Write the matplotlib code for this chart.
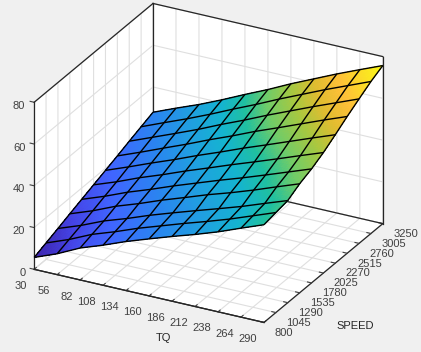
import numpy as np
import matplotlib
matplotlib.use("Agg")
import matplotlib.pyplot as plt
from matplotlib.colors import LinearSegmentedColormap, Normalize
from matplotlib.transforms import ScaledTranslation
from mpl_toolkits.mplot3d import Axes3D

plt.rcParams['font.family'] = ['Liberation Sans', 'DejaVu Sans']

tq = [30, 56, 82, 108, 134, 160, 186, 212, 238, 264, 290]
speed = [800, 1045, 1290, 1535, 1780, 2025, 2270, 2515, 2760, 3005, 3250]
# rows = speed, columns = tq
z_rows = [
    [5.7, 10.0, 15.3, 19.2, 23.5, 27.3, 31.0, 34.5, 38.3, 42.6, 46.8],
    [7.9, 12.1, 17.1, 20.9, 25.1, 28.8, 32.5, 36.0, 39.7, 43.8, 47.9],
    [10.1, 14.1, 18.8, 22.5, 26.6, 30.3, 33.9, 37.4, 41.0, 45.0, 48.9],
    [12.4, 16.4, 21.1, 24.9, 29.1, 32.9, 36.8, 40.3, 44.1, 48.2, 52.2],
    [14.6, 18.6, 23.1, 27.0, 31.2, 35.1, 39.0, 42.7, 46.6, 50.6, 54.6],
    [16.8, 20.8, 25.3, 29.3, 33.6, 37.6, 41.7, 45.6, 49.6, 53.7, 57.7],
    [19.0, 23.2, 27.6, 31.8, 36.3, 40.5, 44.9, 49.0, 53.2, 57.4, 61.5],
    [21.2, 25.5, 30.0, 34.4, 39.1, 43.5, 48.2, 52.5, 56.9, 61.3, 65.5],
    [23.5, 27.9, 32.3, 36.8, 41.7, 46.3, 51.2, 55.8, 60.4, 64.8, 69.2],
    [25.7, 30.2, 34.6, 39.3, 44.3, 49.1, 54.2, 59.0, 63.8, 68.3, 72.8],
    [27.9, 32.4, 36.7, 41.5, 46.6, 51.5, 56.8, 61.7, 66.6, 71.2, 75.7],
]
z_ticks = [0, 20, 40, 60, 80]

parula = LinearSegmentedColormap.from_list('parula', [
    (0.00, '#3E26B0'), (0.10, '#4545E8'), (0.20, '#4065FF'), (0.32, '#2A85F0'),
    (0.42, '#20A0E0'), (0.51, '#14B4D0'), (0.58, '#20C0A0'), (0.65, '#70CC68'),
    (0.73, '#A8C840'), (0.80, '#E0BC30'), (0.87, '#FEC038'), (1.00, '#F9FB14')])

fig = plt.figure(figsize=(4.21, 3.52), dpi=100, facecolor='#F0F0F0')
ax = fig.add_axes([-0.0182, -0.074, 1.0, 1.19], projection='3d', proj_type='ortho',
                  computed_zorder=False, facecolor='none')
ax.view_init(elev=26, azim=-62.2)
ax.set_box_aspect((260, 255, 186), zoom=0.947)

X, Y = np.meshgrid(tq, speed)
Z = np.array(z_rows, dtype=float)
n = 8
fi = np.linspace(0, 10, 10 * n + 1)
Zf = np.array([np.interp(fi, np.arange(11), r) for r in Z])
Zf = np.array([np.interp(fi, np.arange(11), c) for c in Zf.T]).T
Xf, Yf = np.meshgrid(np.interp(fi, np.arange(11), tq), np.interp(fi, np.arange(11), speed))
norm = Normalize(Z.min(), Z.max())

x0, x1, y0, y1, z0, z1 = tq[0], tq[-1], speed[0], speed[-1], z_ticks[0], z_ticks[-1]
edge = dict(color='#262626', linewidth=0.9, zorder=1)
for ex, ey, ez in [([x0, x0], [y1, y1], [z0, z1]), ([x1, x1], [y1, y1], [z0, z1]),
                   ([x0, x0], [y0, y0], [z0, z1]), ([x0, x0], [y0, y1], [z1, z1]),
                   ([x0, x1], [y1, y1], [z1, z1]), ([x0, x1], [y1, y1], [z0, z0])]:
    ax.plot(ex, ey, ez, **edge)

ax.plot_surface(Xf, Yf, Zf, rstride=1, cstride=1, facecolors=parula(norm(Zf)), shade=False,
                linewidth=0, antialiased=False, zorder=2)
ax.plot_wireframe(X, Y, Z, rstride=1, cstride=1, color='black', linewidth=1.0, zorder=3)

ax.set_xlim(x0, x1, view_margin=0); ax.set_ylim(y0, y1, view_margin=0); ax.set_zlim(z0, z1, view_margin=0)
ax.set_xticks(tq); ax.set_yticks(speed); ax.set_zticks(z_ticks)
ax.yaxis.set_rotate_label(False)
ax.set_xlabel('TQ', fontsize=8, color='#262626', labelpad=3)
ax.set_ylabel('SPEED', fontsize=8, color='#262626', labelpad=6, rotation=0)
ax.zaxis._axinfo['juggled'] = (1, 0, 2)
for a in (ax.xaxis, ax.yaxis, ax.zaxis):
    a.set_pane_color((1, 1, 1, 1))
    a.pane.set_edgecolor('#DFDFDF')
    a.pane.set_linewidth(0.8)
    a.line.set_color('#262626')
    a.line.set_linewidth(0.9)
    a._axinfo['grid'].update(color='#DFDFDF', linewidth=0.8)
    a._axinfo['tick'].update(inward_factor=0.0, outward_factor=0.22)
ax.tick_params(labelsize=8, colors='#404040', pad=-2, length=3)
ax.tick_params(axis='x', pad=3)
ax.tick_params(axis='y', pad=-1)
ax.tick_params(axis='z', pad=-4)
for t in ax.get_xticklabels():
    t.set_ha('right')
for t in ax.get_yticklabels():
    t.set_ha('left')
for t in ax.get_zticklabels():
    t.set_ha('right')


def nudge(text, dx, dy):
    """Offset a text by (dx, dy) pixels at draw time, after Axis3D has placed it."""
    original = text.draw
    def draw(renderer):
        text.set_transform(ax.transData + ScaledTranslation(dx / 100, dy / 100, fig.dpi_scale_trans))
        original(renderer)
    text.draw = draw


nudge(ax.xaxis.label, 33, -2)
nudge(ax.yaxis.label, -8, -15)
for t in ax.get_xticklabels():
    nudge(t, 1, 7)
for t in ax.get_yticklabels():
    nudge(t, 0, 4.5)
for t in ax.get_zticklabels():
    nudge(t, 0, 2.5)
fig.savefig('out.png', dpi=100, facecolor=fig.get_facecolor())
